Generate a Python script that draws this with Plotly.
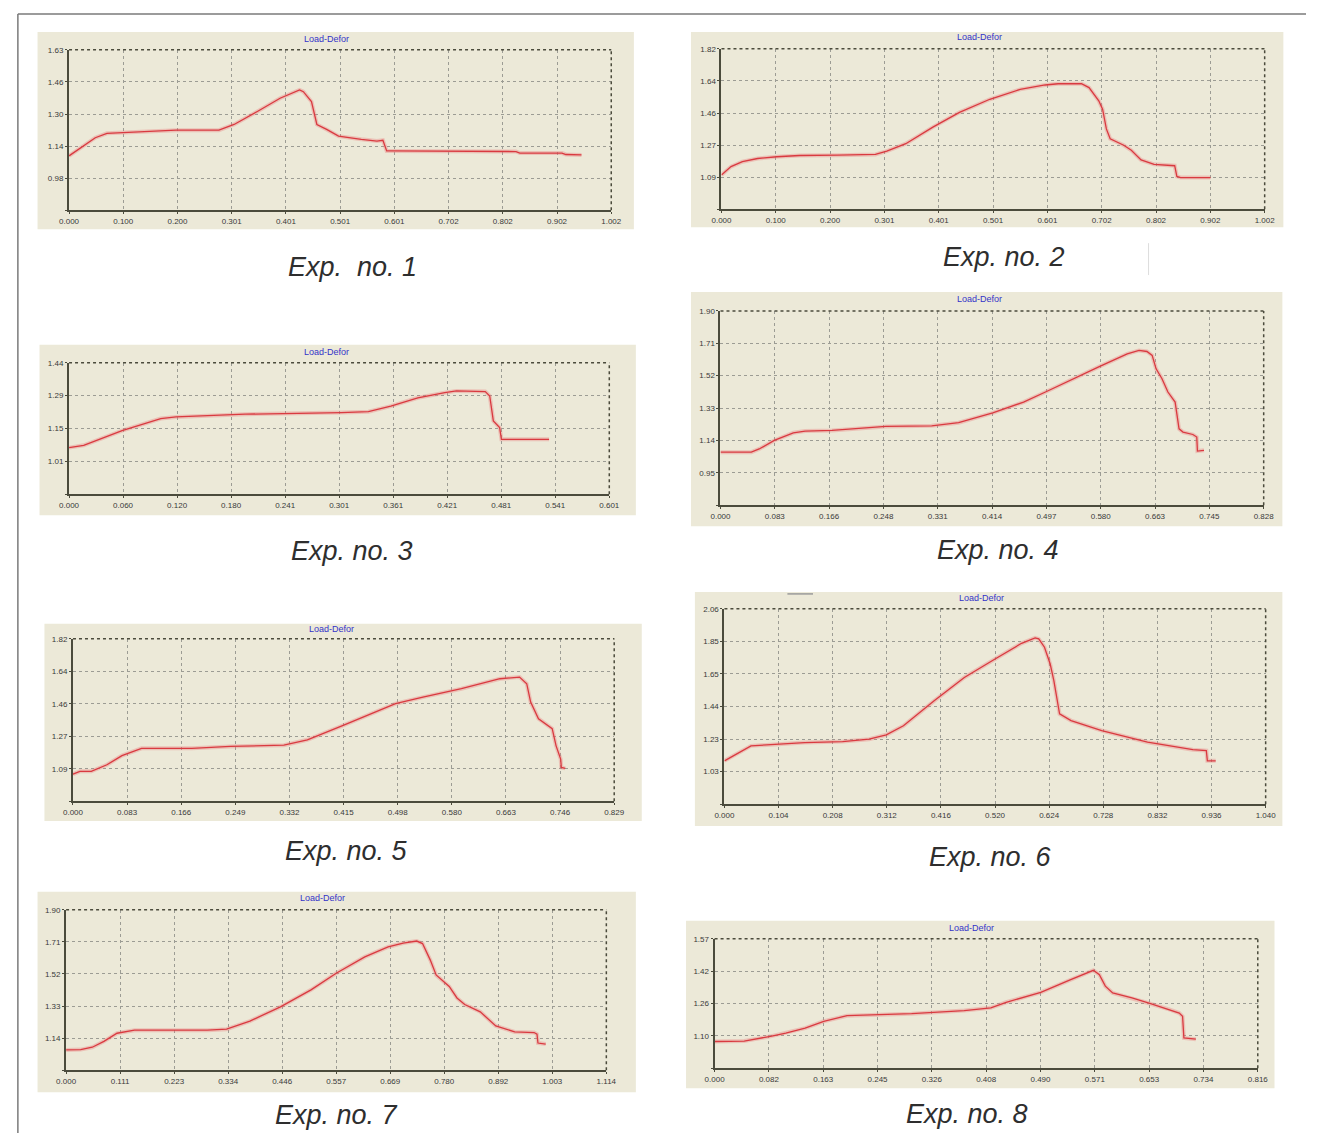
import numpy as np
import plotly.graph_objects as go

# ---- measured load-deformation curves (deformation, load) ----
defl_1 = [0.0, 0.0485, 0.070, 0.098, 0.148, 0.198, 0.277, 0.305, 0.348, 0.390, 0.426, 0.433, 0.448, 0.458,
          0.476, 0.498, 0.540, 0.569, 0.580, 0.583, 0.587, 0.594, 0.826, 0.833, 0.911, 0.918, 0.947]
load_1 = [1.093, 1.185, 1.207, 1.210, 1.215, 1.223, 1.223, 1.252, 1.318, 1.385, 1.427, 1.418, 1.368, 1.252,
          1.227, 1.193, 1.177, 1.168, 1.172, 1.152, 1.118, 1.118, 1.115, 1.107, 1.107, 1.100, 1.098]

defl_2 = [0.0, 0.0176, 0.0386, 0.0667, 0.102, 0.144, 0.214, 0.284, 0.305, 0.340, 0.390, 0.439, 0.495, 0.551,
          0.597, 0.621, 0.664, 0.678, 0.696, 0.703, 0.710, 0.717, 0.742, 0.756, 0.774, 0.798, 0.836, 0.840,
          0.847, 0.902]
load_2 = [1.105, 1.152, 1.180, 1.198, 1.208, 1.215, 1.217, 1.221, 1.240, 1.282, 1.376, 1.460, 1.534, 1.590,
          1.615, 1.622, 1.622, 1.600, 1.525, 1.478, 1.366, 1.310, 1.273, 1.245, 1.190, 1.165, 1.157, 1.096,
          1.090, 1.090]

defl_3 = [0.0, 0.0163, 0.059, 0.102, 0.119, 0.196, 0.303, 0.333, 0.358, 0.388, 0.418, 0.431, 0.463, 0.468,
          0.472, 0.476, 0.479, 0.481, 0.534]
load_3 = [1.072, 1.082, 1.146, 1.198, 1.205, 1.217, 1.224, 1.228, 1.252, 1.288, 1.310, 1.318, 1.315, 1.296,
          1.188, 1.170, 1.159, 1.108, 1.108]

defl_4 = [0.0, 0.047, 0.059, 0.082, 0.111, 0.129, 0.170, 0.211, 0.252, 0.322, 0.363, 0.415, 0.462, 0.497,
          0.532, 0.579, 0.620, 0.638, 0.650, 0.658, 0.664, 0.673, 0.682, 0.693, 0.699, 0.705, 0.720, 0.726,
          0.727, 0.737]
load_4 = [1.071, 1.071, 1.090, 1.140, 1.185, 1.195, 1.199, 1.212, 1.222, 1.226, 1.244, 1.302, 1.365, 1.427,
          1.492, 1.576, 1.648, 1.668, 1.662, 1.639, 1.560, 1.502, 1.424, 1.365, 1.208, 1.189, 1.175, 1.160,
          1.078, 1.082]

defl_5 = [0.0, 0.0106, 0.028, 0.052, 0.075, 0.105, 0.182, 0.241, 0.323, 0.359, 0.412, 0.494, 0.536, 0.595,
          0.654, 0.684, 0.695, 0.701, 0.713, 0.734, 0.740, 0.744, 0.747, 0.748, 0.754]
load_5 = [1.062, 1.077, 1.077, 1.114, 1.165, 1.206, 1.206, 1.217, 1.224, 1.254, 1.332, 1.456, 1.493, 1.540,
          1.596, 1.605, 1.568, 1.465, 1.372, 1.316, 1.220, 1.174, 1.146, 1.099, 1.094]

defl_6 = [0.0, 0.022, 0.051, 0.081, 0.154, 0.227, 0.278, 0.311, 0.344, 0.403, 0.461, 0.520, 0.571, 0.597,
          0.604, 0.615, 0.626, 0.633, 0.641, 0.644, 0.666, 0.725, 0.813, 0.849, 0.900, 0.926, 0.928, 0.944]
load_6 = [1.098, 1.140, 1.193, 1.199, 1.214, 1.220, 1.235, 1.263, 1.320, 1.478, 1.626, 1.743, 1.842, 1.876,
          1.870, 1.817, 1.711, 1.606, 1.437, 1.395, 1.353, 1.290, 1.216, 1.195, 1.169, 1.163, 1.098, 1.098]

defl_7 = [0.0, 0.030, 0.054, 0.078, 0.105, 0.141, 0.212, 0.291, 0.331, 0.379, 0.442, 0.505, 0.557, 0.616,
          0.664, 0.695, 0.723, 0.735, 0.751, 0.763, 0.790, 0.806, 0.822, 0.854, 0.886, 0.925, 0.965, 0.971,
          0.973, 0.989]
load_7 = [1.070, 1.072, 1.086, 1.121, 1.169, 1.187, 1.187, 1.187, 1.193, 1.241, 1.325, 1.426, 1.524, 1.621,
          1.680, 1.703, 1.715, 1.700, 1.602, 1.514, 1.446, 1.378, 1.339, 1.296, 1.212, 1.177, 1.173, 1.163,
          1.111, 1.105]

defl_8 = [0.0, 0.0445, 0.084, 0.107, 0.136, 0.164, 0.199, 0.296, 0.375, 0.415, 0.438, 0.490, 0.535, 0.569,
          0.578, 0.587, 0.598, 0.627, 0.655, 0.684, 0.698, 0.703, 0.705, 0.723]
load_8 = [1.072, 1.074, 1.097, 1.113, 1.137, 1.170, 1.197, 1.207, 1.222, 1.235, 1.262, 1.310, 1.372, 1.417,
          1.396, 1.340, 1.307, 1.283, 1.255, 1.226, 1.210, 1.194, 1.089, 1.083]

# ---- axis scales and tick labels ----
x_max = [1.002, 1.002, 0.601, 0.828, 0.829, 1.040, 1.114, 0.816]
y_min = [0.8175, 0.91, 0.87, 0.76, 0.91, 0.824, 0.95, 0.9425]
y_max = [1.63, 1.82, 1.44, 1.90, 1.82, 2.06, 1.90, 1.57]

xtick_1 = ["0.000", "0.100", "0.200", "0.301", "0.401", "0.501", "0.601", "0.702", "0.802", "0.902", "1.002"]
xtick_2 = ["0.000", "0.100", "0.200", "0.301", "0.401", "0.501", "0.601", "0.702", "0.802", "0.902", "1.002"]
xtick_3 = ["0.000", "0.060", "0.120", "0.180", "0.241", "0.301", "0.361", "0.421", "0.481", "0.541", "0.601"]
xtick_4 = ["0.000", "0.083", "0.166", "0.248", "0.331", "0.414", "0.497", "0.580", "0.663", "0.745", "0.828"]
xtick_5 = ["0.000", "0.083", "0.166", "0.249", "0.332", "0.415", "0.498", "0.580", "0.663", "0.746", "0.829"]
xtick_6 = ["0.000", "0.104", "0.208", "0.312", "0.416", "0.520", "0.624", "0.728", "0.832", "0.936", "1.040"]
xtick_7 = ["0.000", "0.111", "0.223", "0.334", "0.446", "0.557", "0.669", "0.780", "0.892", "1.003", "1.114"]
xtick_8 = ["0.000", "0.082", "0.163", "0.245", "0.326", "0.408", "0.490", "0.571", "0.653", "0.734", "0.816"]

ytick_1 = ["", "0.98", "1.14", "1.30", "1.46", "1.63"]
ytick_2 = ["", "1.09", "1.27", "1.46", "1.64", "1.82"]
ytick_3 = ["", "1.01", "1.15", "1.29", "1.44"]
ytick_4 = ["", "0.95", "1.14", "1.33", "1.52", "1.71", "1.90"]
ytick_5 = ["", "1.09", "1.27", "1.46", "1.64", "1.82"]
ytick_6 = ["", "1.03", "1.23", "1.44", "1.65", "1.85", "2.06"]
ytick_7 = ["", "1.14", "1.33", "1.52", "1.71", "1.90"]
ytick_8 = ["", "1.10", "1.26", "1.42", "1.57"]

chart_title = "Load-Defor"
captions = ["Exp.\u00a0 no. 1", "Exp. no. 2", "Exp. no. 3", "Exp. no. 4",
            "Exp. no. 5", "Exp. no. 6", "Exp. no. 7", "Exp. no. 8"]

deflections = [defl_1, defl_2, defl_3, defl_4, defl_5, defl_6, defl_7, defl_8]
loads = [load_1, load_2, load_3, load_4, load_5, load_6, load_7, load_8]
xticks = [xtick_1, xtick_2, xtick_3, xtick_4, xtick_5, xtick_6, xtick_7, xtick_8]
yticks = [ytick_1, ytick_2, ytick_3, ytick_4, ytick_5, ytick_6, ytick_7, ytick_8]

# ---- page geometry (pixels) ----
W, H = 1317, 1133
panel_box = [(28, 28, 634, 226), (692, 28, 1294, 224), (30, 342, 636, 513), (692, 289, 1293, 524),
             (35, 622, 642, 820), (696, 590, 1293, 825), (28, 891, 636, 1092), (687, 920, 1285, 1088)]
plot_box = [(60, 46, 611, 207), (723, 45, 1275, 206), (60, 360, 609, 492), (722, 308, 1274, 503),
            (64, 637, 614, 800), (726, 607, 1276, 803), (57, 909, 606, 1070), (716, 938, 1268, 1068)]
title_pos = [(322, 35), (985, 33), (322, 349), (985, 296), (327, 627), (987, 596), (318, 897), (977, 927)]
caption_pos = [(348, 264), (1010, 254), (348, 549), (1004, 548), (342, 850), (996, 856), (332, 1115), (973, 1114)]

PANEL_BG = "#ECE9D8"
AXIS_DARK = "#4B4B3C"
GRID = "#9C9C94"
CURVE = "#D93A40"
HALO = "rgba(236,120,120,0.35)"
TICK_FONT = dict(family="Liberation Sans, Arial, sans-serif", size=8, color="#3A3A3A")


def px(x):
    return x / W


def py(y):
    return 1 - y / H


fig = go.Figure()
shapes = []
annotations = []

for i in range(8):
    n = i + 1
    suffix = "" if n == 1 else str(n)
    xa, ya = "x" + suffix, "y" + suffix

    # grey-beige panel behind each chart
    x0, y0, x1, y1 = panel_box[i]
    shapes.append(dict(type="rect", xref="paper", yref="paper", x0=px(x0), x1=px(x1), y0=py(y1), y1=py(y0),
                       fillcolor=PANEL_BG, line=dict(width=0), layer="below"))

    # soft halo + curve
    fig.add_trace(go.Scatter(x=deflections[i], y=loads[i], xaxis=xa, yaxis=ya, mode="lines",
                             line=dict(color=HALO, width=4), hoverinfo="skip", showlegend=False))
    fig.add_trace(go.Scatter(x=deflections[i], y=loads[i], xaxis=xa, yaxis=ya, mode="lines",
                             line=dict(color=CURVE, width=1.3), showlegend=False))

    l, t, r, b = plot_box[i]
    xvals = np.linspace(0, x_max[i], len(xticks[i]))
    yvals = np.linspace(y_min[i], y_max[i], len(yticks[i]))
    common = dict(showgrid=True, gridcolor=GRID, griddash="dot", gridwidth=1, zeroline=False,
                  showline=True, linecolor=AXIS_DARK, linewidth=2, ticks="outside", ticklen=2,
                  tickcolor=AXIS_DARK, tickfont=TICK_FONT, fixedrange=True)
    fig.layout["xaxis" + suffix] = dict(domain=[px(l), px(r)], range=[0, x_max[i]], anchor=ya,
                                         tickmode="array", tickvals=xvals, ticktext=xticks[i], **common)
    fig.layout["yaxis" + suffix] = dict(domain=[py(b), py(t)], range=[y_min[i], y_max[i]], anchor=xa,
                                         tickmode="array", tickvals=yvals, ticktext=yticks[i], **common)

    # dotted frame on the top and right sides of the plot area
    shapes.append(dict(type="line", xref=xa + " domain", yref=ya + " domain", x0=0, x1=1, y0=1, y1=1,
                       line=dict(color=AXIS_DARK, width=1.5, dash="dot")))
    shapes.append(dict(type="line", xref=xa + " domain", yref=ya + " domain", x0=1, x1=1, y0=0, y1=1,
                       line=dict(color=AXIS_DARK, width=1.5, dash="dot")))

    tx, ty = title_pos[i]
    annotations.append(dict(text=chart_title, xref="paper", yref="paper", x=px(tx), y=py(ty),
                            xanchor="center", yanchor="middle", showarrow=False,
                            font=dict(family="Liberation Sans, Arial, sans-serif", size=9, color="#3434C8")))
    cx, cy = caption_pos[i]
    annotations.append(dict(text=captions[i], xref="paper", yref="paper", x=px(cx), y=py(cy),
                            xanchor="center", yanchor="middle", showarrow=False,
                            font=dict(family="Liberation Sans Narrow, Liberation Sans, Arial, sans-serif",
                                      size=27, color="#2E2E2E", style="italic")))

# outer frame of the figure sheet
shapes.append(dict(type="line", xref="paper", yref="paper", x0=px(8), x1=1, y0=py(10), y1=py(10),
                   line=dict(color="#7A7A7A", width=1.5)))
shapes.append(dict(type="line", xref="paper", yref="paper", x0=px(8), x1=px(8), y0=0, y1=py(10),
                   line=dict(color="#7A7A7A", width=1.5)))
# small stray marks on the sheet
shapes.append(dict(type="line", xref="paper", yref="paper", x0=px(790), x1=px(816), y0=py(592), y1=py(592),
                   line=dict(color="#9A9A9A", width=1.5)))
shapes.append(dict(type="line", xref="paper", yref="paper", x0=px(1157), x1=px(1157), y0=py(272), y1=py(240),
                   line=dict(color="#DDDDDD", width=1)))

fig.update_layout(width=W, height=H, margin=dict(l=0, r=0, t=0, b=0), autosize=False,
                  paper_bgcolor="white", plot_bgcolor=PANEL_BG, shapes=shapes, annotations=annotations,
                  showlegend=False)

fig.write_html("out.html", config={"displayModeBar": False})
